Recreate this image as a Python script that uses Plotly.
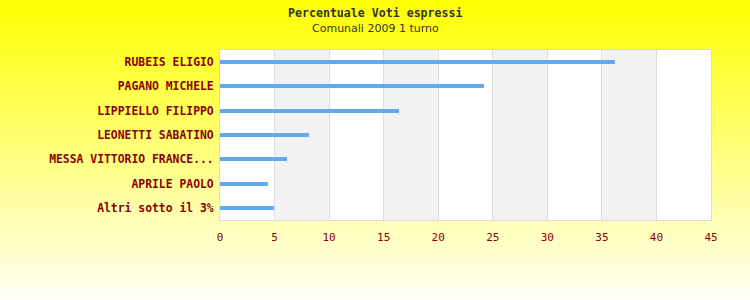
import plotly.graph_objects as go

candidates = ["RUBEIS ELIGIO", "PAGANO MICHELE", "LIPPIELLO FILIPPO", "LEONETTI SABATINO",
              "MESSA VITTORIO FRANCE...", "APRILE PAOLO", "Altri sotto il 3%"]
percent = [36.2, 24.2, 16.4, 8.15, 6.1, 4.4, 4.95]
x_ticks = [0, 5, 10, 15, 20, 25, 30, 35, 40, 45]
title = "Percentuale Voti espressi"
subtitle = "Comunali 2009 1 turno"

W, H = 750, 300
L, R, T, B = 220, 39, 50, 80
PW, PH = W - L - R, H - T - B

fig = go.Figure()
fig.add_trace(go.Bar(
    x=percent, y=candidates, orientation="h",
    marker=dict(color="#62a9ef", line=dict(width=0)),
    width=0.17, hoverinfo="x+y",
))

shapes = []
# background gradient strips (paper coords)
n = 75
step = H / n
for i in range(n):
    p0 = i * step
    p1 = (i + 1) * step + 0.5
    t = (i + 0.5) / n
    b = int(round(0 + 245 * t))
    col = f"rgb(255,255,{b})"
    shapes.append(dict(type="rect", xref="paper", yref="paper",
                       x0=-L / PW - 0.01, x1=1 + R / PW + 0.01,
                       y0=(T + PH - p1) / PH, y1=(T + PH - p0) / PH,
                       fillcolor=col, line=dict(width=0), layer="below"))
# plot area white
shapes.append(dict(type="rect", xref="x", yref="y", x0=0, x1=45, y0=-0.5, y1=6.5,
                   fillcolor="white", line=dict(width=0), layer="below"))
# alternating gray bands
for k in range(1, len(x_ticks) - 1, 2):
    shapes.append(dict(type="rect", xref="x", yref="y", x0=x_ticks[k], x1=x_ticks[k + 1],
                       y0=-0.5, y1=6.5, fillcolor="#f2f2f2", line=dict(width=0), layer="below"))

fig.update_layout(
    width=W, height=H,
    margin=dict(l=L, r=R, t=T, b=B),
    paper_bgcolor="rgba(0,0,0,0)",
    plot_bgcolor="rgba(0,0,0,0)",
    showlegend=False,
    shapes=shapes,
    bargap=0,
    annotations=[
        dict(text=f"<b>{title}</b>", xref="paper", yref="paper",
             x=(375 - L) / PW, y=(T + PH - 13) / PH, showarrow=False,
             xanchor="center", yanchor="middle",
             font=dict(family="DejaVu Sans Mono", size=11.6, color="#333333")),
        dict(text=subtitle, xref="paper", yref="paper",
             x=(375 - L) / PW, y=(T + PH - 28) / PH, showarrow=False,
             xanchor="center", yanchor="middle",
             font=dict(family="DejaVu Sans", size=11, color="#333333")),
    ],
    xaxis=dict(range=[0, 45], tickvals=x_ticks, showgrid=True, gridcolor="#dddddd",
               gridwidth=1, zeroline=False, showline=True, linecolor="#d8d8d8",
               linewidth=1, mirror=True, ticks="outside", ticklen=7,
               tickcolor="rgba(0,0,0,0)", fixedrange=True,
               tickfont=dict(family="DejaVu Sans Mono", size=11, color="#8b0000")),
    yaxis=dict(categoryorder="array", categoryarray=candidates, range=[6.5, -0.5],
               showgrid=False, zeroline=False, showline=True, linecolor="#d8d8d8",
               linewidth=1, mirror=True, ticks="outside", ticklen=3,
               tickcolor="rgba(0,0,0,0)", fixedrange=True,
               tickfont=dict(family="DejaVu Sans Mono", size=11.4, color="#8b0000",
                             weight="bold")),
)

fig.write_html("out.html")
